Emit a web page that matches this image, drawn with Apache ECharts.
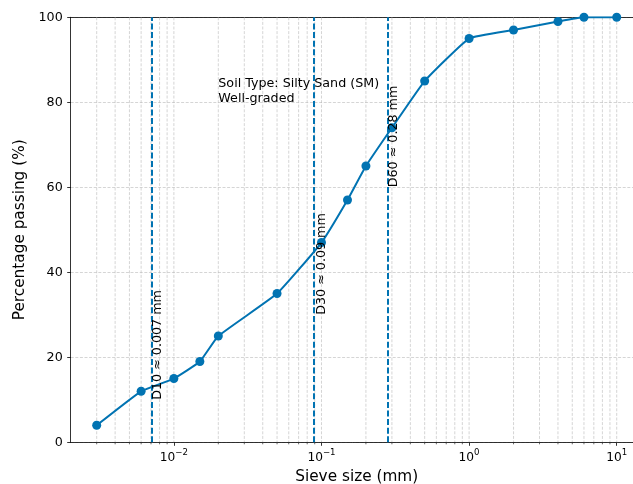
<!DOCTYPE html>
<html><head><meta charset="utf-8">
<script src="https://cdn.jsdelivr.net/npm/echarts@6/dist/echarts.min.js"></script>
<style>html,body{margin:0;padding:0;background:#fff}#c{width:633px;height:484px}</style>
</head><body><div id="c"></div>
<script>
// ---- data ----
const sieveSizes = [0.003, 0.006, 0.01, 0.015, 0.02, 0.05, 0.1, 0.15, 0.2, 0.3, 0.5, 1, 2, 4, 6, 10];
const percentPassing = [4, 12, 15, 19, 25, 35, 47, 57, 65, 74, 85, 95, 97, 99, 100, 100];
const dValues = [0.007, 0.09, 0.28];
const dPercents = [10, 30, 60];
const dLabels = ['D10 ≈ 0.007 mm', 'D30 ≈ 0.09 mm', 'D60 ≈ 0.28 mm'];
const xMin = 0.002, xMax = 15;
const majorTicks = [0.01, 0.1, 1, 10];
const majorExponents = ['−2', '−1', '0', '1'];
const minorDecades = [0.001, 0.01, 0.1, 1];
const minorMultipliers = [2, 3, 4, 5, 6, 7, 8, 9];
const annotationLines = ['Soil Type: Silty Sand (SM)', 'Well-graded'];
const annotationAt = [0.02, 80];

const FONT = '"DejaVu Sans", sans-serif';
const BLUE = '#0173b2';
const lg = Math.log10;

const gridVals = [];
majorTicks.forEach(v => gridVals.push([lg(v), 1]));
minorDecades.forEach(d => minorMultipliers.forEach(m => {
  const v = d * m;
  if (v > xMin * 1.001 && v < xMax) gridVals.push([lg(v), 0]);
}));

const chart = echarts.init(document.getElementById('c'), null, {renderer: 'canvas'});
const option = {
  animation: false,
  backgroundColor: '#fff',
  grid: {left: 70.7, top: 17.3, right: -9.7, bottom: 41.7, containLabel: false, outerBoundsMode: 'none'},
  xAxis: [{
    type: 'value', min: lg(xMin), max: lg(xMax),
    axisLine: {show: true, onZero: false, lineStyle: {color: '#000', width: 0.8}},
    axisTick: {show: true, length: 3.5, customValues: majorTicks.map(lg), lineStyle: {color: '#000', width: 0.8}},
    axisLabel: {
      customValues: majorTicks.map(lg), margin: 6, color: '#000', fontFamily: FONT,
      formatter: function (v) {
        const i = majorTicks.findIndex(t => Math.abs(lg(t) - v) < 1e-6);
        if (i < 0) return '';
        return '{b|10}{s|' + majorExponents[i] + '}';
      },
      rich: {
        b: {fontSize: 12.2, lineHeight: 16, fontFamily: FONT, color: '#000', verticalAlign: 'bottom'},
        s: {fontSize: 8.6, lineHeight: 8.6, fontFamily: FONT, color: '#000', verticalAlign: 'top'}
      }
    },
    splitLine: {show: false},
    name: 'Sieve size (mm)', nameLocation: 'middle', nameGap: 25,
    nameTextStyle: {fontSize: 15.3, color: '#000', fontFamily: FONT}
  }, {
    type: 'value', position: 'top', min: lg(xMin), max: lg(xMax),
    axisLine: {show: true, onZero: false, lineStyle: {color: '#000', width: 0.8}},
    axisTick: {show: false}, axisLabel: {show: false}, splitLine: {show: false}
  }],
  yAxis: {
    type: 'value', min: 0, max: 100, interval: 20, position: 'left',
    axisLine: {show: true, onZero: false, lineStyle: {color: '#000', width: 0.8}},
    axisTick: {show: true, length: 3.5, lineStyle: {color: '#000', width: 0.8}},
    axisLabel: {margin: 8, fontSize: 12.7, color: '#000', fontFamily: FONT},
    splitLine: {show: true, lineStyle: {color: '#b8b8b8', width: 0.6, type: [3, 1.6]}},
    name: 'Percentage passing (%)', nameLocation: 'middle', nameGap: 38, nameRotate: 90,
    nameTextStyle: {fontSize: 15.3, color: '#000', fontFamily: FONT}
  },
  series: [{
    type: 'custom', coordinateSystem: 'cartesian2d', xAxisIndex: 0, yAxisIndex: 0,
    silent: true, clip: false, z: 1,
    encode: {x: 0, y: 1},
    data: gridVals,
    renderItem: function (params, api) {
      const v = api.value(0), major = api.value(1);
      const t = api.coord([v, 100]), b = api.coord([v, 0]);
      const ch = [{type: 'line', shape: {x1: t[0], y1: t[1], x2: b[0], y2: b[1]},
        style: {stroke: '#b8b8b8', lineWidth: 0.6, lineDash: [3, 1.6]}}];
      if (!major) ch.push({type: 'line', shape: {x1: b[0], y1: b[1], x2: b[0], y2: b[1] + 2},
        style: {stroke: '#000', lineWidth: 0.6}});
      return {type: 'group', children: ch};
    }
  }, {
    type: 'line', xAxisIndex: 0, yAxisIndex: 0, z: 3,
    data: sieveSizes.map((s, i) => [lg(s), percentPassing[i]]),
    smooth: 0.12,
    symbol: 'circle', symbolSize: 9,
    lineStyle: {color: BLUE, width: 2},
    itemStyle: {color: BLUE},
    markLine: {
      silent: true, symbol: 'none', label: {show: false},
      lineStyle: {color: BLUE, width: 2, type: [6, 2.6], opacity: 1},
      data: dValues.map(d => ({xAxis: lg(d)}))
    }
  }]
};
chart.setOption(option);

const g = [];
dValues.forEach((d, i) => {
  const p = chart.convertToPixel({xAxisIndex: 0, yAxisIndex: 0}, [lg(d), dPercents[i]]);
  g.push({type: 'text', x: p[0], y: p[1], rotation: Math.PI / 2, z: 100,
    style: {text: dLabels[i], fontSize: 12.7, fontFamily: FONT, fill: '#000',
      align: 'left', verticalAlign: 'top', textAlign: 'left', textVerticalAlign: 'top'}});
});
const pa = chart.convertToPixel({xAxisIndex: 0, yAxisIndex: 0}, [lg(annotationAt[0]), annotationAt[1]]);
g.push({type: 'text', x: pa[0], y: pa[1] + 4.2, z: 100,
  style: {text: annotationLines.join('\n'), fontSize: 12.7, lineHeight: 15, fontFamily: FONT, fill: '#000',
    align: 'left', verticalAlign: 'bottom', textAlign: 'left', textVerticalAlign: 'bottom'}});
chart.setOption({graphic: g});
</script>
</body></html>
